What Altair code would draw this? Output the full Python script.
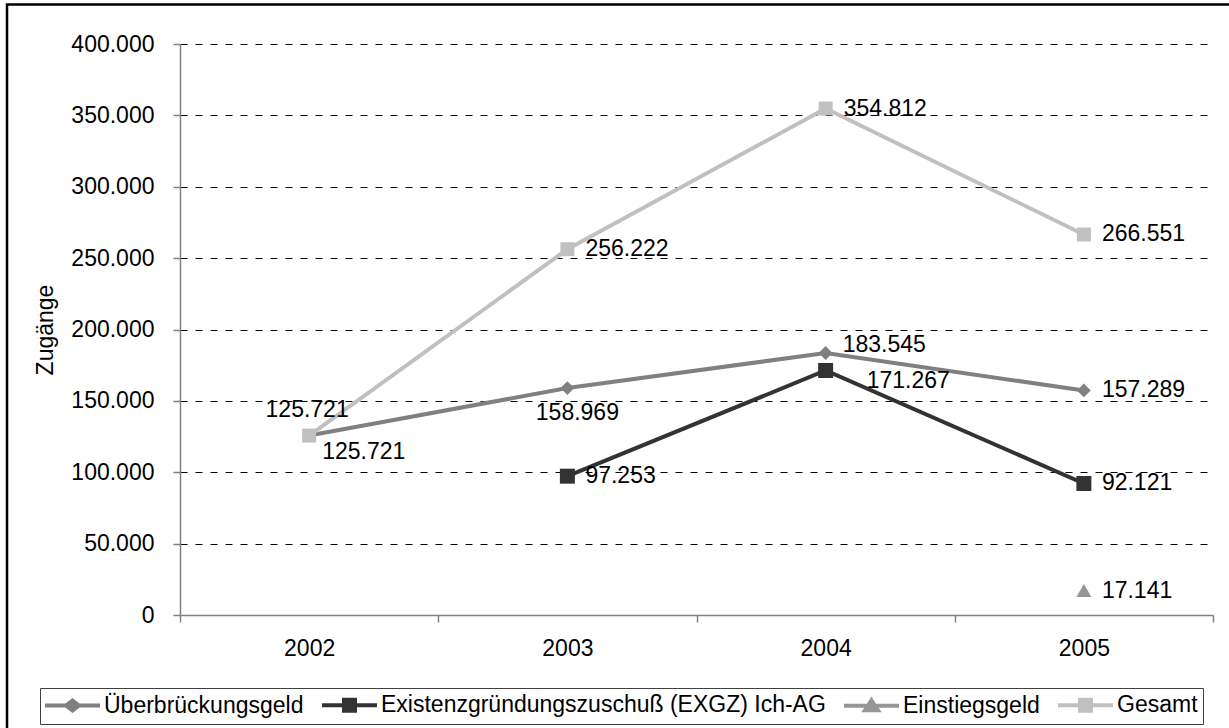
import altair as alt
import pandas as pd

# ---------------- data ----------------
years = ["2002", "2003", "2004", "2005"]
series_names = [
    "Überbrückungsgeld",
    "Existenzgründungszuschuß (EXGZ) Ich-AG",
    "Einstiegsgeld",
    "Gesamt",
]
ueberbrueckungsgeld = [125721, 158969, 183545, 157289]
exgz = [None, 97253, 171267, 92121]
einstiegsgeld = [None, None, None, 17141]
gesamt = [125721, 256222, 354812, 266551]
y_ticks = [0, 50000, 100000, 150000, 200000, 250000, 300000, 350000, 400000]

# ---------------- styles ----------------
FONT = "Liberation Sans"
FS = 23
colors = ["#808080", "#333333", "#969696", "#C0C0C0"]
marker_shapes = ["diamond", "square", "triangle-up", "square"]
marker_sizes = [190, 225, 225, 196]
line_widths = [4, 4, 2, 4]

legend_line = "M-1.2,0H4.3 "
legend_paths = [
    legend_line + "M1.55,-0.5L2.2,0L1.55,0.5L0.9,0Z",
    legend_line + "M1.0,-0.55H2.1V0.55H1.0Z",
    legend_line + "M1.55,-0.55L2.2,0.45H0.9Z",
    legend_line + "M1.0,-0.55H2.1V0.55H1.0Z",
]

# label placement (align, dx, dy); default is right of the point
default_place = ("left", 18, 0)
special_place = {
    ("Überbrückungsgeld", "2002"): ("center", -2, -26),
    ("Gesamt", "2002"): ("left", 13, 16),
    ("Überbrückungsgeld", "2003"): ("center", 10, 25),
    ("Überbrückungsgeld", "2004"): ("left", 17, -8),
    ("Existenzgründungszuschuß (EXGZ) Ich-AG", "2004"): ("left", 41, 10),
}

# ---------------- table ----------------
rows = []
for name, vals in zip(series_names, [ueberbrueckungsgeld, exgz, einstiegsgeld, gesamt]):
    for yr, v in zip(years, vals):
        if v is not None:
            rows.append({"series": name, "year": yr, "value": v})
df = pd.DataFrame(rows)

label_expr = "replace(format(datum.value, ','), ',', '.')"

x_enc = alt.X(
    "year:N",
    scale=alt.Scale(type="band", domain=years, paddingInner=0, paddingOuter=0),
    axis=alt.Axis(
        title=None,
        tickBand="extent",
        labelAngle=0,
        labelFont=FONT,
        labelFontSize=FS,
        labelColor="black",
        labelPadding=15,
        tickSize=7,
        tickColor="#808080",
        tickWidth=1.5,
        domainColor="#808080",
        domainWidth=1.5,
        grid=False,
    ),
)
y_enc = alt.Y(
    "value:Q",
    scale=alt.Scale(domain=[0, 400000], nice=False, zero=True),
    axis=alt.Axis(
        values=y_ticks,
        labelExpr=label_expr,
        labelFont=FONT,
        labelFontSize=FS,
        labelColor="black",
        labelPadding=19,
        tickSize=7,
        tickColor="#808080",
        tickWidth=1.5,
        domainColor="#808080",
        domainWidth=1.5,
        grid=True,
        gridColor="black",
        gridWidth=1,
        gridDash=[7, 8],
        gridOpacity={"condition": {"test": "datum.value === 0", "value": 0}, "value": 1},
        title="Zugänge",
        titleFont=FONT,
        titleFontSize=FS,
        titleFontWeight="normal",
        titleColor="black",
        titleAngle=270,
        titleX=-135,
        titleY=285.5,
        titleAlign="center",
        titleBaseline="middle",
    ),
)

base = alt.Chart(df)
layers = []

# outer frame
frame = alt.Chart(pd.DataFrame({"a": [0]})).mark_rect(
    filled=False, stroke="black", strokeWidth=2.5
).encode(
    x=alt.value(-173), x2=alt.value(1080), y=alt.value(-39.5), y2=alt.value(720)
)
layers.append(frame)

for i, name in enumerate(series_names):
    sub = base.transform_filter(alt.datum.series == name)
    layers.append(
        sub.mark_line(color=colors[i], strokeWidth=line_widths[i]).encode(x=x_enc, y=y_enc)
    )
    layers.append(
        sub.mark_point(
            filled=True, shape=marker_shapes[i], size=marker_sizes[i],
            color=colors[i], opacity=1, strokeWidth=0,
        ).encode(x=x_enc, y=y_enc)
    )

# data labels
for r in rows:
    align, dx, dy = special_place.get((r["series"], r["year"]), default_place)
    layers.append(
        base.transform_filter(
            (alt.datum.series == r["series"]) & (alt.datum.year == r["year"])
        )
        .transform_calculate(lbl=label_expr)
        .mark_text(
            font=FONT, fontSize=FS, color="black",
            align=align, baseline="middle", dx=dx, dy=dy,
        )
        .encode(x=x_enc, y=y_enc, text="lbl:N")
    )

# legend layer (symbols only used by the legend, mark itself placed off-canvas)
leg = alt.Legend(
    title=None,
    orient="none",
    legendX=-140,
    legendY=644,
    direction="horizontal",
    strokeColor="#404040",
    padding=5,
    columnPadding=10,
    labelFont=FONT,
    labelFontSize=FS,
    labelColor="black",
    labelOffset=35,
    labelLimit=2000,
    symbolSize=400,
    symbolStrokeWidth=4,
)
legend_layer = base.mark_point(filled=True, size=400, strokeWidth=4, opacity=1).encode(
    x=alt.value(0),
    y=alt.value(5000),
    fill=alt.Fill("series:N", scale=alt.Scale(domain=series_names, range=colors), legend=leg),
    stroke=alt.Stroke("series:N", scale=alt.Scale(domain=series_names, range=colors), legend=leg),
    shape=alt.Shape("series:N", scale=alt.Scale(domain=series_names, range=legend_paths), legend=leg),
)
layers.append(legend_layer)

chart = (
    alt.layer(*layers)
    .properties(
        width=1033,
        height=571,
        autosize=alt.AutoSizeParams(type="none"),
        padding={"left": 180, "top": 44, "right": 16, "bottom": 113},
        background="white",
    )
    .configure_view(stroke=None)
)

chart.save("out.html", embed_options={"renderer": "svg", "actions": False})
